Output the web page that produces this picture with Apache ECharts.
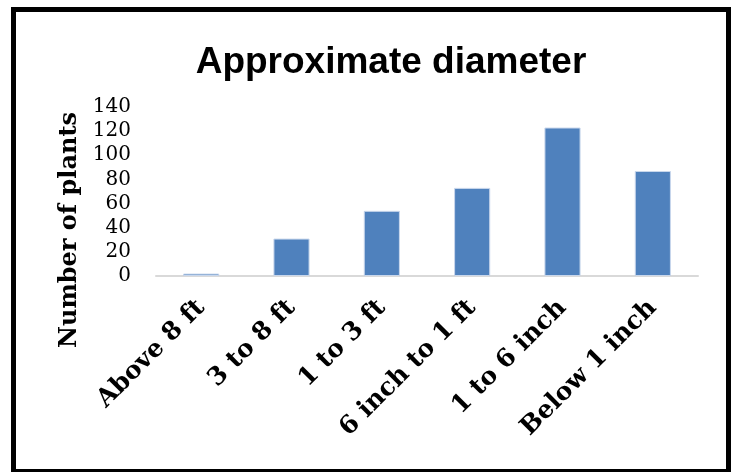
<!DOCTYPE html>
<html>
<head>
<meta charset="utf-8">
<script src="https://cdn.jsdelivr.net/npm/echarts@6/dist/echarts.min.js"></script>
<style>
html,body{margin:0;padding:0;background:#fff;}
#chart{width:736px;height:472px;}
</style>
</head>
<body>
<div id="chart"></div>
<script>
const categories = ['Above 8 ft', '3 to 8 ft', '1 to 3 ft', '6 inch to 1 ft', '1 to 6 inch', 'Below 1 inch'];
const plantCounts = [2, 31, 54, 73, 123, 87];
const yTicks = { min: 0, max: 140, interval: 20 };
const titleText = 'Approximate diameter';
const yAxisTitle = 'Number of plants';

const chart = echarts.init(document.getElementById('chart'), null, { renderer: 'canvas' });
chart.setOption({
  backgroundColor: '#ffffff',
  animation: false,
  title: {
    text: titleText,
    left: 386,
    top: 39,
    textAlign: 'center',
    textStyle: { fontFamily: 'Liberation Sans', fontWeight: 'bold', fontSize: 37, color: '#000' }
  },
  grid: { left: 156, right: 38, top: 107, bottom: 196, containLabel: false },
  xAxis: {
    type: 'category',
    data: categories,
    axisLine: { show: true, lineStyle: { color: '#d9d9d9', width: 2 } },
    axisTick: { show: false },
    axisLabel: {
      rotate: 45,
      interval: 0,
      margin: 28,
      fontFamily: 'DejaVu Serif',
      fontWeight: 'bold',
      fontSize: 25,
      color: '#000'
    }
  },
  yAxis: {
    type: 'value',
    min: yTicks.min,
    max: yTicks.max,
    interval: yTicks.interval,
    axisLine: { show: false },
    axisTick: { show: false },
    splitLine: { show: false },
    axisLabel: { margin: 25, fontFamily: 'DejaVu Serif', fontSize: 20, color: '#000' }
  },
  series: [{
    type: 'bar',
    data: plantCounts,
    barWidth: '40%',
    itemStyle: { color: '#4f81bd', borderColor: '#c9d7ec', borderWidth: 1 }
  }],
  graphic: [
    {
      type: 'text',
      x: 70, y: 230,
      rotation: Math.PI / 2,
      style: {
        text: yAxisTitle,
        x: 0, y: 0,
        align: 'center', verticalAlign: 'middle',
        font: 'bold 24px "DejaVu Serif"',
        fill: '#000'
      }
    },
    {
      type: 'rect',
      shape: { x: 13.5, y: 9.5, width: 715, height: 462 },
      style: { fill: 'none', stroke: '#000', lineWidth: 5 },
      silent: true
    }
  ]
});
</script>
</body>
</html>
